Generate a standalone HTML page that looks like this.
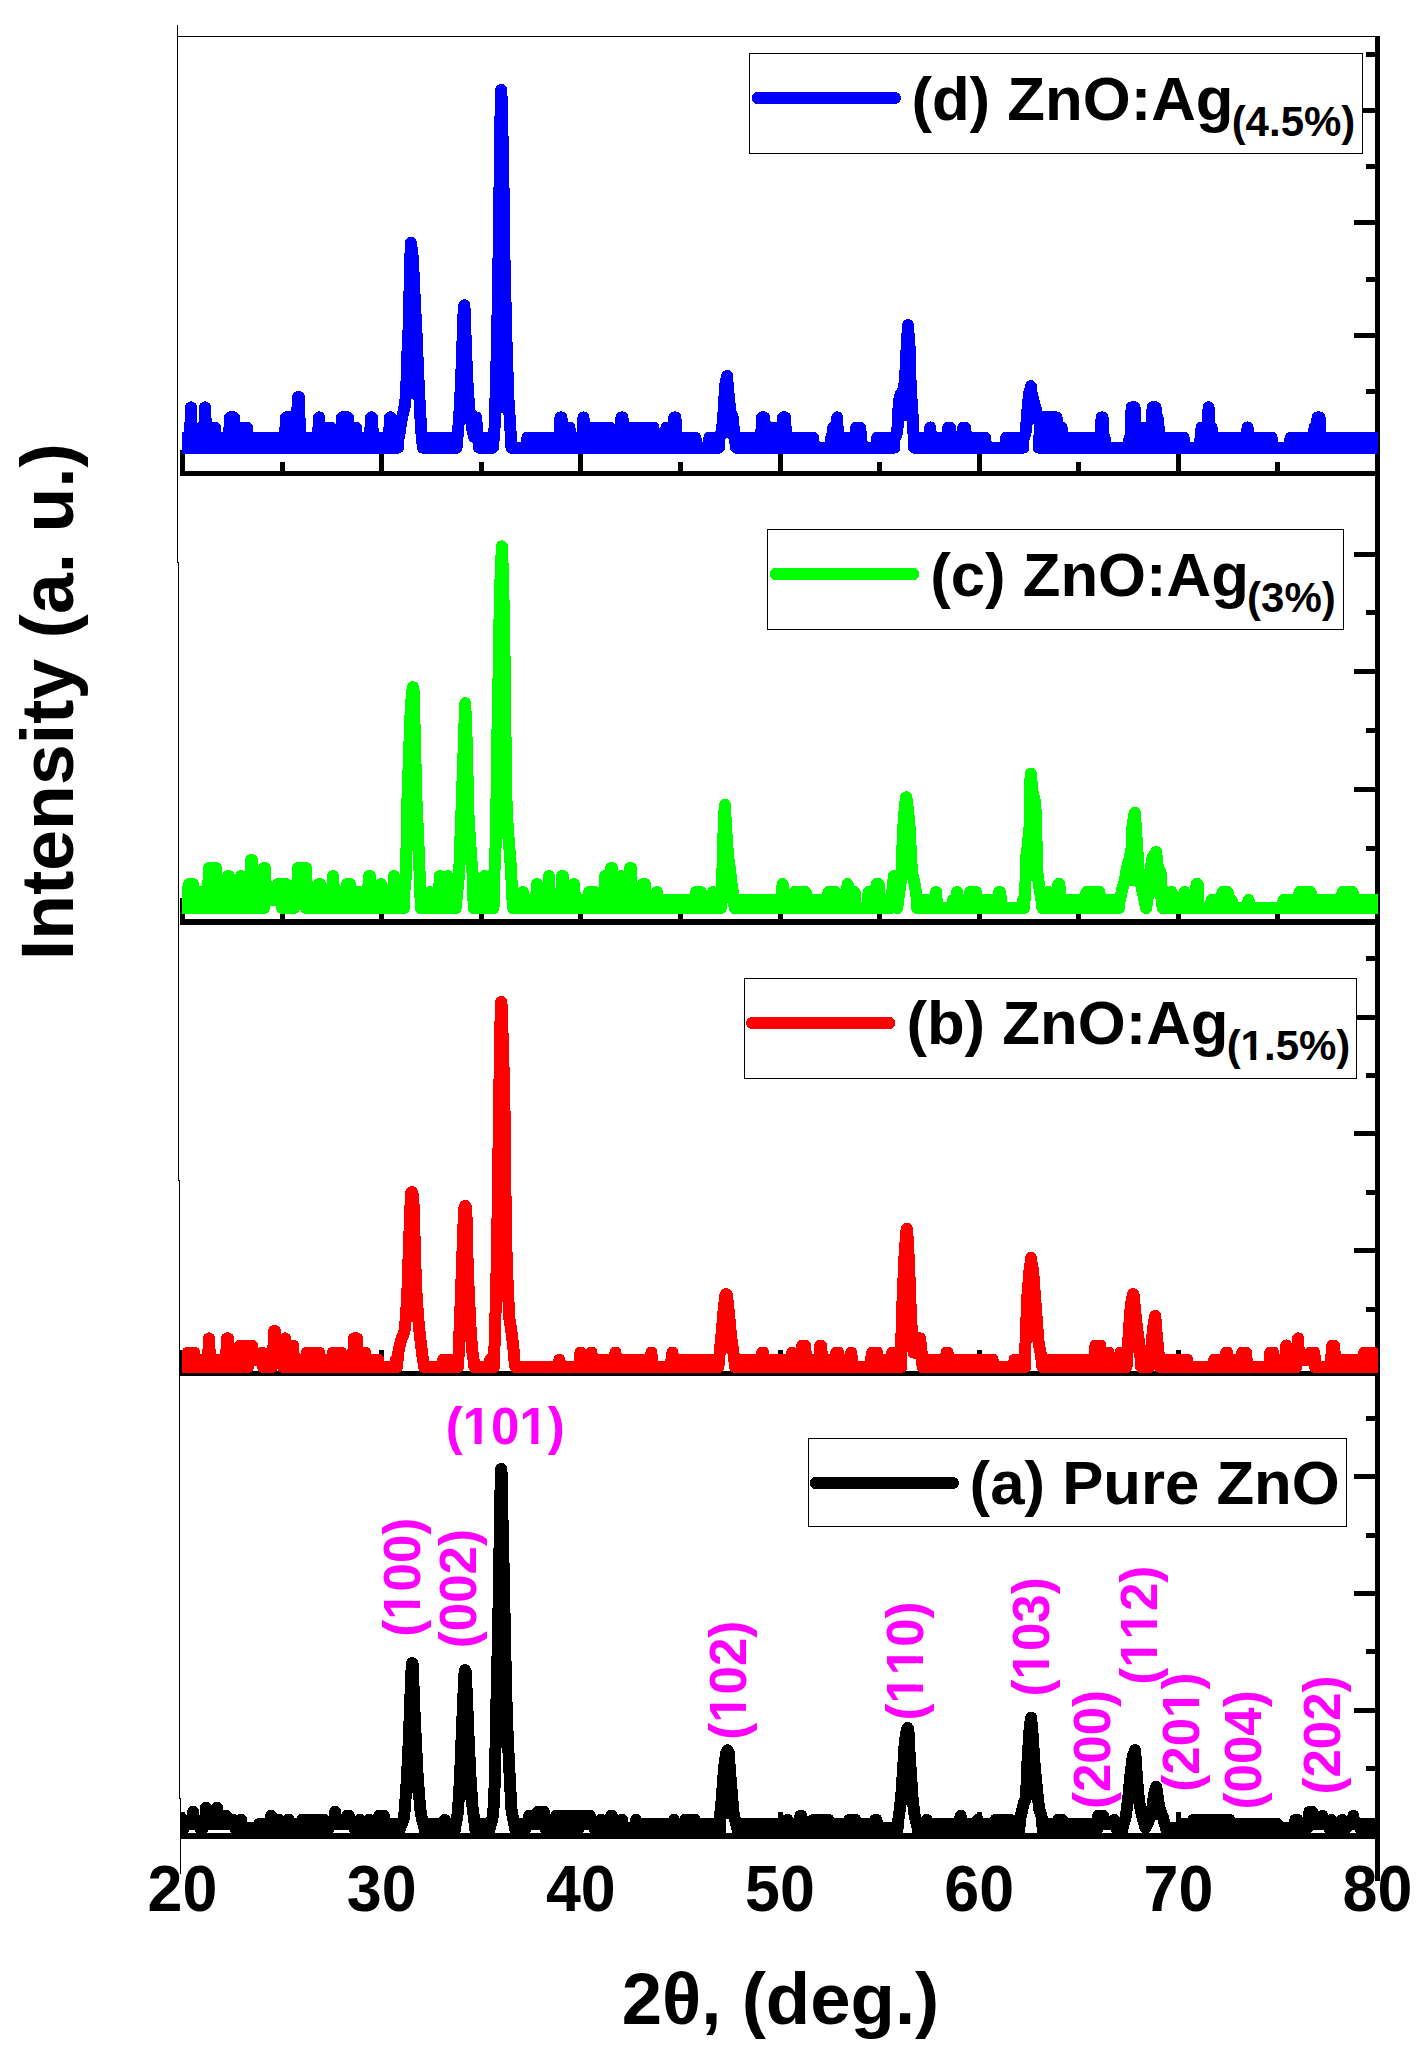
<!DOCTYPE html>
<html lang="en"><head><meta charset="utf-8"><title>XRD patterns of ZnO:Ag</title>
<style>html,body{margin:0;padding:0;background:#fff;overflow:hidden}svg{display:block}text{font-family:"Liberation Sans",sans-serif;font-weight:bold;font-kerning:none}</style>
</head><body>
<svg width="1424" height="2060" viewBox="0 0 1424 2060">
<rect width="1424" height="2060" fill="#fff"/>
<defs><clipPath id="cp"><rect x="182" y="0" width="1196" height="2060"/></clipPath></defs>
<g fill="#000" shape-rendering="crispEdges">
<rect x="177" y="36" width="1203" height="1.3"/>
<rect x="177" y="25" width="1.3" height="538"/>
<rect x="178" y="562" width="1.3" height="619"/>
<rect x="179" y="1180" width="1.3" height="619"/>
<rect x="180" y="1798" width="1.3" height="76"/>
</g>
<g fill="#000" shape-rendering="crispEdges">
<rect x="1375" y="36" width="5" height="1844.5"/>
<rect x="180" y="471" width="1198" height="5"/>
<rect x="180.0" y="450.0" width="5" height="22"/>
<rect x="279.6" y="462.0" width="5" height="10"/>
<rect x="379.2" y="450.0" width="5" height="22"/>
<rect x="478.8" y="462.0" width="5" height="10"/>
<rect x="578.3" y="450.0" width="5" height="22"/>
<rect x="677.9" y="462.0" width="5" height="10"/>
<rect x="777.5" y="450.0" width="5" height="22"/>
<rect x="877.1" y="462.0" width="5" height="10"/>
<rect x="976.7" y="450.0" width="5" height="22"/>
<rect x="1076.3" y="462.0" width="5" height="10"/>
<rect x="1175.9" y="450.0" width="5" height="22"/>
<rect x="1275.4" y="462.0" width="5" height="10"/>
<rect x="1375.0" y="450.0" width="5" height="22"/>
<rect x="1354" y="108.0" width="22" height="5"/>
<rect x="1354" y="220.2" width="22" height="5"/>
<rect x="1354" y="332.5" width="22" height="5"/>
<rect x="1366" y="52.0" width="10" height="5"/>
<rect x="1366" y="164.3" width="10" height="5"/>
<rect x="1366" y="276.5" width="10" height="5"/>
<rect x="1366" y="388.9" width="10" height="5"/>
<rect x="180" y="919" width="1198" height="6"/>
<rect x="180.0" y="898.0" width="5" height="22"/>
<rect x="279.6" y="910.0" width="5" height="10"/>
<rect x="379.2" y="898.0" width="5" height="22"/>
<rect x="478.8" y="910.0" width="5" height="10"/>
<rect x="578.3" y="898.0" width="5" height="22"/>
<rect x="677.9" y="910.0" width="5" height="10"/>
<rect x="777.5" y="898.0" width="5" height="22"/>
<rect x="877.1" y="910.0" width="5" height="10"/>
<rect x="976.7" y="898.0" width="5" height="22"/>
<rect x="1076.3" y="910.0" width="5" height="10"/>
<rect x="1175.9" y="898.0" width="5" height="22"/>
<rect x="1275.4" y="910.0" width="5" height="10"/>
<rect x="1375.0" y="898.0" width="5" height="22"/>
<rect x="1354" y="551.5" width="22" height="5"/>
<rect x="1354" y="669.0" width="22" height="5"/>
<rect x="1354" y="787.0" width="22" height="5"/>
<rect x="1366" y="610.3" width="10" height="5"/>
<rect x="1366" y="727.8" width="10" height="5"/>
<rect x="1366" y="846.0" width="10" height="5"/>
<rect x="180" y="1371" width="1198" height="5"/>
<rect x="180.0" y="1350.0" width="5" height="22"/>
<rect x="279.6" y="1362.0" width="5" height="10"/>
<rect x="379.2" y="1350.0" width="5" height="22"/>
<rect x="478.8" y="1362.0" width="5" height="10"/>
<rect x="578.3" y="1350.0" width="5" height="22"/>
<rect x="677.9" y="1362.0" width="5" height="10"/>
<rect x="777.5" y="1350.0" width="5" height="22"/>
<rect x="877.1" y="1362.0" width="5" height="10"/>
<rect x="976.7" y="1350.0" width="5" height="22"/>
<rect x="1076.3" y="1362.0" width="5" height="10"/>
<rect x="1175.9" y="1350.0" width="5" height="22"/>
<rect x="1275.4" y="1362.0" width="5" height="10"/>
<rect x="1375.0" y="1350.0" width="5" height="22"/>
<rect x="1354" y="1014.5" width="22" height="5"/>
<rect x="1354" y="1131.2" width="22" height="5"/>
<rect x="1354" y="1247.7" width="22" height="5"/>
<rect x="1366" y="955.8" width="10" height="5"/>
<rect x="1366" y="1072.7" width="10" height="5"/>
<rect x="1366" y="1189.5" width="10" height="5"/>
<rect x="1366" y="1306.5" width="10" height="5"/>
<rect x="180" y="1833" width="1198" height="6"/>
<rect x="180.0" y="1812.0" width="5" height="22"/>
<rect x="279.6" y="1824.0" width="5" height="10"/>
<rect x="379.2" y="1812.0" width="5" height="22"/>
<rect x="478.8" y="1824.0" width="5" height="10"/>
<rect x="578.3" y="1812.0" width="5" height="22"/>
<rect x="677.9" y="1824.0" width="5" height="10"/>
<rect x="777.5" y="1812.0" width="5" height="22"/>
<rect x="877.1" y="1824.0" width="5" height="10"/>
<rect x="976.7" y="1812.0" width="5" height="22"/>
<rect x="1076.3" y="1824.0" width="5" height="10"/>
<rect x="1175.9" y="1812.0" width="5" height="22"/>
<rect x="1275.4" y="1824.0" width="5" height="10"/>
<rect x="1375.0" y="1812.0" width="5" height="22"/>
<rect x="1354" y="1474.3" width="22" height="5"/>
<rect x="1354" y="1590.8" width="22" height="5"/>
<rect x="1354" y="1707.8" width="22" height="5"/>
<rect x="1366" y="1416.0" width="10" height="5"/>
<rect x="1366" y="1532.5" width="10" height="5"/>
<rect x="1366" y="1649.0" width="10" height="5"/>
<rect x="1366" y="1765.5" width="10" height="5"/>
</g>
<g clip-path="url(#cp)" stroke="#0000ff" stroke-width="12" stroke-linejoin="round" stroke-linecap="round" shape-rendering="crispEdges">
<path fill="#0000ff" d="M182,437.6 190,437.6 191,407.3 192,437.6 204,437.6 205,407.3 206,427.5 215,427.5 216,437.6 229,437.6 230,417.4 234,417.4 235,427.5 247,427.5 248,437.6 285,437.6 286,417.4 297,417.4 298,397.2 299,397.2 300,437.6 318,437.6 319,417.4 320,427.5 331,427.5 332,437.6 341,437.6 342,417.4 348,417.4 349,427.5 356,427.5 357,437.6 370,437.6 371,417.4 372,417.4 373,437.6 389,437.6 390,417.4 391,417.4 392,437.6 398,437.6 398,447.7 182,447.7ZM424,437.6 455.5,437.6 455.5,447.7 424,447.7ZM479,437.6 492,437.6 492,447.7 479,447.7ZM512.4,447.7 526.4,447.7 527.4,437.6 559.4,437.6 560.4,417.4 561.4,417.4 562.4,427.5 569.4,427.5 570.4,437.6 582.4,437.6 583.4,417.4 584.4,427.5 609.4,427.5 610.4,437.6 620.4,437.6 621.4,417.4 622.4,417.4 623.4,427.5 653.4,427.5 654.4,437.6 665.4,437.6 666.4,427.5 673.4,427.5 674.4,417.4 675.4,417.4 676.4,437.6 695.4,437.6 696.4,447.7 708.4,447.7 709.4,437.6 718.9,437.6 718.9,447.7 512.4,447.7ZM737.1,437.6 761.1,437.6 762.1,417.4 764.1,417.4 765.1,427.5 782.1,427.5 783.1,417.4 785.1,417.4 786.1,437.6 813.1,437.6 814.1,447.7 830.1,447.7 831.1,437.6 832.1,437.6 833.1,427.5 836.1,427.5 837.1,417.4 838.1,437.6 855.1,437.6 856.1,427.5 860.1,427.5 861.1,437.6 862.1,447.7 876.1,447.7 877.1,437.6 894.4,437.6 894.4,447.7 737.1,447.7ZM915.1,437.6 929.1,437.6 930.1,427.5 931.1,437.6 947.1,437.6 948.1,427.5 950.1,427.5 951.1,437.6 962.1,437.6 963.1,427.5 965.1,427.5 966.1,437.6 985.1,437.6 986.1,447.7 1005.1,447.7 1006.1,437.6 1023.4,437.6 1023.4,447.7 915.1,447.7ZM1038.6,437.6 1039.6,437.6 1040.6,417.4 1056.6,417.4 1057.6,427.5 1061.6,427.5 1062.6,437.6 1100.6,437.6 1101.6,417.4 1102.6,417.4 1103.6,437.6 1104.6,437.6 1105.6,447.7 1128.6,447.7 1129.6,437.6 1130.6,437.6 1131.6,407.3 1134.6,407.3 1135.6,427.5 1151.6,427.5 1152.6,407.3 1155.6,407.3 1156.6,417.4 1157.6,417.4 1158.6,427.5 1159.6,437.6 1183.6,437.6 1184.6,447.7 1199.6,447.7 1200.6,437.6 1201.6,427.5 1207.6,427.5 1208.6,407.3 1209.6,427.5 1211.6,427.5 1212.6,437.6 1246.6,437.6 1247.6,427.5 1248.6,437.6 1271.6,437.6 1272.6,447.7 1289.6,447.7 1290.6,437.6 1313.6,437.6 1314.6,427.5 1316.6,427.5 1317.6,417.4 1319.6,417.4 1320.6,437.6 1378,437.6 1378,447.7 1038.6,447.7Z"/>
<path fill="none" d="M399,437 401.5,420 405,405 406.3,390 407,360 408.3,339 409.3,300 410.3,259 410.9,243 411.9,250 412.9,259 414.8,300 416.8,339 418,370 419.4,398 420.6,420 421.8,438 423,447.7M456.5,447.7 458,432 459.7,408.5 461.2,378.6 462.6,338.8 463.6,312 464.2,305.3 464.9,312 465.6,338.8 467.2,378.6 469.2,408.5 470.6,418.5 472.5,430 474,437 476,417.4 478,437M493,447.7 494.5,428.4 495.5,398.5 497.1,338.8 498.5,259.1 499.9,159.6 500.8,96 501.1,89.9 501.5,96 503.1,159.6 504.5,259.1 506.4,338.8 508.4,398.5 510.4,428.4 511.4,447.7M719.9,437 721.9,431.5 723.7,409.6 725.3,384.3 726.9,377 727,376 727.1,377 728.6,394.4 730.3,411.2 732.8,418 734.1,433 736.1,447.7M895.4,437 897.3,431.5 898.9,401 900.6,394.4 904,389.3 905.7,367.4 906.5,350.6 907.9,327 908,325 908.1,327 909.8,350.6 910.6,384.3 911.8,404.5 912.8,418 913.4,431.5 914.1,447.7M1024.4,437 1025.9,431 1027.3,411 1029,394 1031,386.8 1030.8,386.2 1030.6,386.8 1031.7,394 1033.9,402.5 1036.5,411 1037.6,420"/>
<path fill="#0000ff" stroke="none" d="M405.6,398.5 406.3,390 407,360 408.3,339 409.3,300 410.3,259 410.9,243 411.9,250 412.9,259 414.8,300 416.8,339 418,370 419.4,398 419.4,398.5ZM459,418.4 459.7,408.5 461.2,378.6 462.6,338.8 463.6,312 464.2,305.3 464.9,312 465.6,338.8 467.2,378.6 469.2,408.5 470.6,418.4ZM495,412.5 495.5,398.5 497.1,338.8 498.5,259.1 499.9,159.6 500.8,96 501.1,89.9 501.5,96 503.1,159.6 504.5,259.1 506.4,338.8 508.4,398.5 509.3,412.5ZM719.9,437 721.9,431.5 723.7,409.6 725.3,384.3 726.9,377 727,376 727.1,377 728.6,394.4 730.3,411.2 732.8,418 734.1,433 735,439.9ZM897.9,420.5 898.9,401 900.6,394.4 904,389.3 905.7,367.4 906.5,350.6 907.9,327 908,325 908.1,327 909.8,350.6 910.6,384.3 911.8,404.5 912.8,418 912.9,420.5ZM1025.7,432 1025.9,431 1027.3,411 1029,394 1031,386.8 1030.8,386.2 1030.6,386.8 1031.7,394 1033.9,402.5 1036.5,411 1037.6,420Z"/>
</g>
<g clip-path="url(#cp)" stroke="#00ff00" stroke-width="12" stroke-linejoin="round" stroke-linecap="round" shape-rendering="crispEdges">
<path fill="#00ff00" d="M182,892.1 188,892.1 189,884.1 193,884.1 194,892.1 208,892.1 209,868.1 216,868.1 217,892.1 227,892.1 228,876.1 229,876.1 230,892.1 240,892.1 241,876.1 242,892.1 250,892.1 251,860.1 252,860.1 253,892.1 263,892.1 264,868.1 265,868.1 266,892.1 277,892.1 278,884.1 286,884.1 287,892.1 297,892.1 298,868.1 306,868.1 307,892.1 318,892.1 319,884.1 320,884.1 321,892.1 332,892.1 333,876.1 334,892.1 346,892.1 347,884.1 350,884.1 351,892.1 368,892.1 369,876.1 370,876.1 371,892.1 380,892.1 381,884.1 382,892.1 393,892.1 394,876.1 395,892.1 397,892.1 398,900.1 402.9,900.1 402.9,908.1 306,908.1 305,900.1 295,900.1 294,908.1 282,908.1 281,900.1 265,900.1 264,908.1 182,908.1ZM421.8,900.1 428.8,900.1 429.8,892.1 430.8,900.1 438.8,900.1 439.8,876.1 440.8,900.1 446.8,900.1 447.8,876.1 448.8,900.1 454.7,900.1 454.7,908.1 421.8,908.1ZM474.6,900.1 483.6,900.1 484.6,876.1 485.6,900.1 492.5,900.1 492.5,908.1 474.6,908.1ZM514,900.1 522,900.1 523,892.1 524,900.1 536,900.1 537,884.1 538,900.1 548,900.1 549,876.1 550,900.1 561,900.1 562,876.1 563,876.1 564,900.1 573,900.1 574,884.1 575,900.1 588,900.1 589,892.1 595,892.1 596,900.1 604,900.1 605,876.1 606,900.1 610,900.1 611,868.1 612,868.1 613,900.1 620,900.1 621,876.1 622,900.1 629,900.1 630,868.1 631,868.1 632,900.1 642,900.1 643,884.1 645,884.1 646,900.1 656,900.1 657,892.1 658,900.1 695,900.1 696,892.1 701,892.1 702,900.1 712,900.1 713,892.1 714,900.1 719.9,900.1 719.9,908.1 514,908.1ZM735.6,900.1 781.6,900.1 782.6,884.1 783.6,900.1 793.6,900.1 794.6,892.1 805.6,892.1 806.6,900.1 827.6,900.1 828.6,892.1 835.6,892.1 836.6,900.1 846.6,900.1 847.6,884.1 848.6,900.1 849.6,900.1 850.6,908.1 853.6,908.1 854.6,892.1 855.6,908.1 867.6,908.1 868.6,892.1 869.6,908.1 871.6,908.1 872.6,900.1 875.6,900.1 876.6,884.1 878.6,884.1 879.6,900.1 890.4,900.1 890.4,908.1 735.6,908.1ZM918.1,900.1 935.1,900.1 936.1,892.1 937.1,908.1 952.1,908.1 953.1,900.1 956.1,900.1 957.1,892.1 958.1,900.1 969.1,900.1 970.1,892.1 976.1,892.1 977.1,900.1 998.1,900.1 999.1,892.1 1000.1,892.1 1001.1,900.1 1002.1,908.1 1022.1,908.1 1022.9,900.1 1022.9,908.1 918.1,908.1ZM1043.4,900.1 1047.4,900.1 1048.4,892.1 1049.4,900.1 1057.4,900.1 1058.4,884.1 1059.4,884.1 1060.4,900.1 1085.4,900.1 1086.4,892.1 1099.4,892.1 1100.4,900.1 1118.9,900.1 1118.9,908.1 1043.4,908.1ZM1163.6,900.1 1170.6,900.1 1171.6,892.1 1172.6,900.1 1183.6,900.1 1184.6,892.1 1185.6,900.1 1195.6,900.1 1196.6,884.1 1197.6,884.1 1198.6,908.1 1210.6,908.1 1211.6,900.1 1221.6,900.1 1222.6,892.1 1227.6,892.1 1228.6,900.1 1231.6,900.1 1232.6,908.1 1247.6,908.1 1248.6,900.1 1249.6,908.1 1282.6,908.1 1283.6,900.1 1298.6,900.1 1299.6,892.1 1310.6,892.1 1311.6,900.1 1341.6,900.1 1342.6,892.1 1352.6,892.1 1353.6,900.1 1378,900.1 1378,908.1 1163.6,908.1Z"/>
<path fill="none" d="M403.9,908.1 404.5,890 405.9,876.4 406.5,848.6 407.5,798.8 408.9,759 410.3,719.1 411.9,693.2 412.9,687.3 413.9,693.2 414.4,719.1 415.4,759 416.4,798.8 418.2,838.6 419.4,868.5 420.2,886.4 420.8,908.1M455.7,908.1 457.7,888.4 459.3,870.5 460,848.6 461.2,818.7 462.6,778.9 464,739 465.2,703.2 466.6,739 467.6,778.9 468.6,818.7 470.6,848.6 472,868.5 473.2,878.4 473.6,908.1M493.5,908.1 494.5,870.5 495.5,848.6 496.5,798.8 497.5,729.1 498.5,679.3 499.5,619.6 500.5,579.7 501.9,546.3 503.1,579.7 503.9,619.6 504.9,679.3 505.4,729.1 506.4,798.8 507.8,828.6 509.4,848.6 511,868.5 511.8,886.4 513,908.1M720.9,908.1 722.2,881.1 723,847.4 724.2,813.7 725,804.9 725.3,813.7 726.3,830.6 728,855.8 729.7,867.6 731.7,884.5 733.4,894.6 734.6,908.1M891.4,900 893.9,876 895.7,896 897.2,908.1 898.9,895 901.1,879 901.7,866.4 902.3,849.6 903.5,824.3 904.8,807.4 906,797.3 906.4,797.3 907.7,807.4 909.4,824.3 910.4,841 910.9,858 912.6,874.8 915.1,886.6 916.6,897 917.1,908.1M1023.9,908.1 1025.3,891.7 1026,858 1027.3,849.6 1029.8,824.3 1030.3,790.6 1030.6,773.7 1030.9,773.7 1032.3,790.6 1035.3,802.4 1036.5,841.1 1037.3,871.5 1039.1,886 1041.5,900 1042.4,908.1M1119.9,900 1122,890 1124.5,881.6 1127,868.1 1129.6,858 1131.6,847.9 1132.6,824.3 1134.5,814 1134.8,812.7 1135.1,814 1135.8,827.6 1137,844.5 1137.9,858 1138.7,872 1141.1,885 1144.1,898 1146.1,908.1 1148.9,890 1150.1,872.3 1152.3,858 1155.3,853.3 1156.2,852.1 1156.7,857 1157.2,864.7 1160.6,873.1 1161.5,885.8 1162.6,908.1"/>
<path fill="#00ff00" stroke="none" d="M406.5,850.5 406.5,848.6 407.5,798.8 408.9,759 410.3,719.1 411.9,693.2 412.9,687.3 413.9,693.2 414.4,719.1 415.4,759 416.4,798.8 418.2,838.6 418.7,850.5ZM459.5,864.5 460,848.6 461.2,818.7 462.6,778.9 464,739 465.2,703.2 466.6,739 467.6,778.9 468.6,818.7 470.6,848.6 471.7,864.5ZM495.7,838.6 496.5,798.8 497.5,729.1 498.5,679.3 499.5,619.6 500.5,579.7 501.9,546.3 503.1,579.7 503.9,619.6 504.9,679.3 505.4,729.1 506.4,798.8 507.8,828.6 508.6,838.6ZM721.1,903 722.2,881.1 723,847.4 724.2,813.7 725,804.9 725.3,813.7 726.3,830.6 728,855.8 729.7,867.6 731.7,884.5 733.4,894.6 734.1,903ZM901.1,879 901.7,866.4 902.3,849.6 903.5,824.3 904.8,807.4 906,797.3 906.4,797.3 907.7,807.4 909.4,824.3 910.4,841 910.9,858 912.6,874.8 913.5,879ZM1025.5,879.9 1026,858 1027.3,849.6 1029.8,824.3 1030.3,790.6 1030.6,773.7 1030.9,773.7 1032.3,790.6 1035.3,802.4 1036.5,841.1 1037.3,871.5 1038.3,879.9ZM1123.2,885.8 1124.5,881.6 1127,868.1 1129.6,858 1131.6,847.9 1132.6,824.3 1134.5,814 1134.8,812.7 1135.1,814 1135.8,827.6 1137,844.5 1137.9,858 1138.7,872 1141.1,885 1141.3,885.8ZM1148.9,890 1150.1,872.3 1152.3,858 1155.3,853.3 1156.2,852.1 1156.7,857 1157.2,864.7 1160.6,873.1 1161.5,885.8 1162.6,908.1Z"/>
</g>
<g clip-path="url(#cp)" stroke="#ff0000" stroke-width="12" stroke-linejoin="round" stroke-linecap="round" shape-rendering="crispEdges">
<path fill="#ff0000" d="M182,1359.8 187,1359.8 188,1352.6 194,1352.6 195,1359.8 208,1359.8 209,1338.3 210,1359.8 226,1359.8 227,1338.3 228,1338.3 229,1359.8 239,1359.8 240,1345.5 252,1345.5 253,1359.8 261,1359.8 262,1352.6 263,1359.8 273,1359.8 274,1331.2 275,1331.2 276,1359.8 284,1359.8 285,1338.3 286,1359.8 292,1359.8 293,1345.5 294,1359.8 306,1359.8 307,1352.6 319,1352.6 320,1359.8 332,1359.8 333,1352.6 341,1352.6 342,1359.8 353,1359.8 354,1338.3 357,1338.3 358,1359.8 364,1359.8 365,1352.6 366,1359.8 378,1359.8 379,1366.9 395,1366.9 395.9,1359.8 395.9,1366.9 283,1366.9 282,1359.8 273,1359.8 272,1366.9 263,1366.9 262,1359.8 249,1359.8 248,1366.9 182,1366.9ZM425.2,1366.9 442.2,1366.9 443.2,1359.8 457.1,1359.8 457.1,1366.9 425.2,1366.9ZM475.2,1366.9 489.2,1366.9 490.2,1359.8 492.9,1359.8 492.9,1366.9 475.2,1366.9ZM516.4,1366.9 558.4,1366.9 559.4,1359.8 560.4,1366.9 579.4,1366.9 580.4,1352.6 581.4,1359.8 590.4,1359.8 591.4,1352.6 592.4,1359.8 614.4,1359.8 615.4,1352.6 616.4,1359.8 650.4,1359.8 651.4,1352.6 652.4,1366.9 670.4,1366.9 671.4,1359.8 672.4,1352.6 673.4,1359.8 717.4,1359.8 717.4,1366.9 516.4,1366.9ZM736.1,1359.8 761.1,1359.8 762.1,1352.6 763.1,1352.6 764.1,1359.8 791.1,1359.8 792.1,1352.6 793.1,1359.8 801.1,1359.8 802.1,1345.5 805.1,1345.5 806.1,1359.8 819.1,1359.8 820.1,1345.5 821.1,1345.5 822.1,1359.8 835.1,1359.8 836.1,1352.6 838.1,1352.6 839.1,1359.8 850.1,1359.8 851.1,1352.6 852.1,1359.8 853.1,1366.9 870.1,1366.9 871.1,1359.8 872.1,1352.6 877.1,1352.6 878.1,1359.8 891.1,1359.8 892.1,1352.6 893.1,1359.8 900.3,1359.8 900.3,1366.9 736.1,1366.9ZM923.6,1359.8 945.6,1359.8 946.6,1352.6 947.6,1352.6 948.6,1359.8 992.6,1359.8 993.6,1366.9 1013.6,1366.9 1014.6,1359.8 1024.3,1359.8 1024.3,1366.9 923.6,1366.9ZM1043.4,1359.8 1094.4,1359.8 1095.4,1345.5 1100.4,1345.5 1101.4,1359.8 1104.4,1359.8 1105.4,1366.9 1107.4,1366.9 1108.4,1352.6 1109.4,1366.9 1119.4,1366.9 1120.4,1352.6 1121.4,1366.9 1122.4,1366.9 1123.4,1359.8 1125.5,1359.8 1125.5,1366.9 1043.4,1366.9ZM1161.1,1359.8 1187.1,1359.8 1188.1,1366.9 1213.1,1366.9 1214.1,1359.8 1225.1,1359.8 1226.1,1352.6 1227.1,1352.6 1228.1,1359.8 1241.1,1359.8 1242.1,1352.6 1246.1,1352.6 1247.1,1366.9 1269.1,1366.9 1270.1,1352.6 1273.1,1352.6 1274.1,1359.8 1285.1,1359.8 1286.1,1345.5 1287.1,1359.8 1297.1,1359.8 1298.1,1338.3 1299.1,1359.8 1309.1,1359.8 1310.1,1352.6 1314.1,1352.6 1315.1,1359.8 1316.1,1366.9 1330.1,1366.9 1331.1,1359.8 1332.1,1345.5 1334.1,1345.5 1335.1,1359.8 1363.1,1359.8 1364.1,1352.6 1373.1,1352.6 1374.1,1359.8 1378,1359.8 1378,1366.9 1315.1,1366.9 1314.1,1359.8 1297.1,1359.8 1296.1,1366.9 1161.1,1366.9Z"/>
<path fill="none" d="M396.9,1366.9 398.3,1352.3 400.9,1340.4 404.3,1332.4 405.9,1318.5 407.5,1288.6 408.9,1248.8 410.3,1208.9 411.3,1193 411.9,1192 412.5,1193 413.9,1208.9 414.8,1248.8 416.2,1288.6 418.2,1318.5 420.2,1338.4 422.8,1358.3 424.2,1366.9M458.1,1366.9 458.7,1352.3 459.6,1328.4 461.2,1288.6 462.6,1248.8 464,1211 464.5,1207 465.2,1206 465.9,1207 466.4,1211 467.2,1248.8 468.6,1288.6 470.6,1328.4 472,1348.3 473.6,1360.3 474.2,1366.9M493.9,1366.9 494.5,1346.3 495.1,1328.4 495.9,1298.6 497.1,1248.8 497.9,1189 499.1,1109.4 499.9,1049.6 500.9,1003.5 501.2,1001.9 501.5,1003.5 503.1,1049.6 504.5,1109.4 505.4,1189 506.4,1248.8 507.8,1288.6 509.4,1318.5 511.8,1334.4 513.4,1348.3 514.4,1360.3 515.4,1366.9M718.4,1366.9 719.8,1351.7 721.5,1334.8 723.7,1309.6 725.3,1295.4 726.1,1294 726.9,1295.4 728.6,1309.6 730.3,1328.1 732,1343.3 733.7,1355.1 735.1,1366.9M901.3,1366.9 901.3,1343.3 901.8,1318 903.2,1284.3 904.8,1250.6 906.5,1230 906.8,1228.8 907.1,1230 908.4,1250.6 909.8,1284.3 911,1318 912.3,1335 913.6,1352.6 916.1,1352.6 918.1,1338.3 920.1,1338.3 921.6,1352 922.6,1366.9M1025.3,1366.9 1025.3,1348.3 1026.5,1318 1027.6,1292.7 1029.8,1267.4 1031.3,1259 1031.1,1257.9 1030.9,1259 1033.1,1270.8 1035.3,1301.1 1037.3,1326.4 1038.7,1343.3 1040.7,1353.4 1042.4,1366.9M1126.5,1366.9 1127.9,1346.6 1129.2,1326.4 1130.9,1304.5 1132.9,1295.4 1133.2,1294 1133.7,1295.4 1135,1309.6 1137,1328.1 1138.7,1339.9 1140.4,1356.8 1141.2,1366.9 1149.4,1366.9 1151.5,1345 1153.1,1328.1 1154.8,1317.3 1155.1,1315.9 1155.4,1317.3 1156.4,1331.5 1158.1,1348.3 1159.4,1360 1160.1,1366.9"/>
<path fill="#ff0000" stroke="none" d="M406,1317.5 407.5,1288.6 408.9,1248.8 410.3,1208.9 411.3,1193 411.9,1192 412.5,1193 413.9,1208.9 414.8,1248.8 416.2,1288.6 418.1,1317.5ZM459.4,1332.4 459.6,1328.4 461.2,1288.6 462.6,1248.8 464,1211 464.5,1207 465.2,1206 465.9,1207 466.4,1211 467.2,1248.8 468.6,1288.6 470.6,1328.4 470.9,1332.4ZM495.8,1301.5 495.9,1298.6 497.1,1248.8 497.9,1189 499.1,1109.4 499.9,1049.6 500.9,1003.5 501.2,1001.9 501.5,1003.5 503.1,1049.6 504.5,1109.4 505.4,1189 506.4,1248.8 507.8,1288.6 508.5,1301.5ZM719.7,1352.5 719.8,1351.7 721.5,1334.8 723.7,1309.6 725.3,1295.4 726.1,1294 726.9,1295.4 728.6,1309.6 730.3,1328.1 732,1343.3 733.3,1352.5ZM901.3,1348.3 901.3,1343.3 901.8,1318 903.2,1284.3 904.8,1250.6 906.5,1230 906.8,1228.8 907.1,1230 908.4,1250.6 909.8,1284.3 911,1318 912.3,1335 913.3,1348.3ZM1025.6,1341.6 1026.5,1318 1027.6,1292.7 1029.8,1267.4 1031.3,1259 1031.1,1257.9 1030.9,1259 1033.1,1270.8 1035.3,1301.1 1037.3,1326.4 1038.6,1341.6ZM1127.5,1352.5 1127.9,1346.6 1129.2,1326.4 1130.9,1304.5 1132.9,1295.4 1133.2,1294 1133.7,1295.4 1135,1309.6 1137,1328.1 1138.7,1339.9 1140,1352.5ZM1149.4,1366.9 1151.5,1345 1153.1,1328.1 1154.8,1317.3 1155.1,1315.9 1155.4,1317.3 1156.4,1331.5 1158.1,1348.3 1159.4,1360 1160.1,1366.9Z"/>
</g>
<g clip-path="url(#cp)" stroke="#000000" stroke-width="12" stroke-linejoin="round" stroke-linecap="round" shape-rendering="crispEdges">
<path fill="#000000" d="M182,1824 183,1819.9 184,1824 192,1824 193,1811.8 194,1824 205,1824 206,1807.8 207,1824 216,1824 217,1807.8 218,1824 225,1824 226,1815.8 227,1824 232,1824 233,1819.9 234,1824 240,1824 241,1819.9 242,1828 258,1828 259,1824 270,1824 271,1815.8 272,1824 278,1824 279,1819.9 280,1824 287,1824 288,1819.9 289,1819.9 290,1824 301,1824 302,1819.9 324,1819.9 325,1824 334,1824 335,1811.8 336,1824 346,1824 347,1815.8 349,1815.8 350,1824 359,1824 360,1819.9 361,1824 368,1824 369,1819.9 370,1824 378,1824 379,1815.8 384,1815.8 385,1824 397.6,1824 397.6,1828 354,1828 353,1824 330,1824 329,1828 235,1828 234,1824 204,1824 203,1828 200,1828 199,1824 185,1824 184,1828 182,1828ZM426.7,1824 443.7,1824 444.7,1819.9 445.7,1824 453.3,1824 453.3,1828 426.7,1828ZM476.8,1824 487.6,1824 487.6,1828 476.8,1828ZM517,1824 528,1824 529,1815.8 530,1824 537,1824 538,1811.8 544,1811.8 545,1824 555,1824 556,1815.8 590,1815.8 591,1824 600,1824 601,1819.9 602,1824 610,1824 611,1815.8 612,1815.8 613,1824 620,1824 621,1828 622,1819.9 623,1828 635,1828 636,1819.9 637,1824 673,1824 674,1819.9 675,1824 684,1824 685,1819.9 695,1819.9 696,1824 719.1,1824 719.1,1828 594,1828 593,1824 580,1824 579,1828 545,1828 544,1824 527,1824 526,1828 517,1828ZM739.4,1824 786.4,1824 787.4,1819.9 788.4,1824 799.4,1824 800.4,1815.8 801.4,1815.8 802.4,1824 812.4,1824 813.4,1819.9 828.4,1819.9 829.4,1824 848.4,1824 849.4,1819.9 855.4,1819.9 856.4,1824 874.4,1824 875.4,1819.9 876.4,1819.9 877.4,1824 878.4,1828 896.2,1828 896.2,1828 739.4,1828ZM919.6,1824 925.6,1824 926.6,1819.9 927.6,1824 959.6,1824 960.6,1815.8 961.6,1824 976.6,1824 977.6,1819.9 978.6,1824 994.6,1824 995.6,1819.9 1010.6,1819.9 1011.6,1824 1017.9,1824 1017.9,1828 919.6,1828ZM1044.1,1824 1057.1,1824 1058.1,1819.9 1062.1,1819.9 1063.1,1824 1097.1,1824 1098.1,1815.8 1103.1,1815.8 1104.1,1824 1113.1,1824 1114.1,1819.9 1115.1,1824 1120.3,1824 1120.3,1828 1116.1,1828 1115.1,1824 1099.1,1824 1098.1,1828 1044.1,1828ZM1168.3,1828 1181.3,1828 1182.3,1824 1192.3,1824 1193.3,1819.9 1229.3,1819.9 1230.3,1824 1277.3,1824 1278.3,1828 1294.3,1828 1295.3,1819.9 1297.3,1819.9 1298.3,1824 1308.3,1824 1309.3,1811.8 1312.3,1811.8 1313.3,1824 1321.3,1824 1322.3,1815.8 1323.3,1824 1330.3,1824 1331.3,1819.9 1332.3,1824 1341.3,1824 1342.3,1819.9 1343.3,1824 1352.3,1824 1353.3,1815.8 1354.3,1824 1378,1824 1378,1828 1360.3,1828 1359.3,1824 1347.3,1824 1346.3,1828 1329.3,1828 1328.3,1824 1308.3,1824 1307.3,1828 1168.3,1828Z"/>
<path fill="none" d="M398.6,1832.5 403.9,1818.3 404.9,1808.4 406.9,1778.5 408.9,1738.7 410.3,1698.9 411.7,1665 412.3,1663 412.9,1665 413.9,1698.9 415.8,1738.7 417.8,1778.5 420.2,1808.4 421.8,1818.3 425.7,1832.5M454.3,1832.5 457.3,1816.4 458.1,1808.4 460,1778.5 461.6,1738.7 463.2,1698.9 464.6,1672 465.2,1670 465.8,1672 467,1698.9 468.6,1738.7 470.6,1778.5 472.6,1808.4 474,1818.3 475.8,1832.5M488.6,1832.5 492.5,1818.3 493.5,1808.4 494.5,1788.5 495.5,1748.6 496.5,1698.9 497.9,1639.1 499.1,1579.4 499.9,1519.6 500.9,1471 501.2,1468.9 501.5,1471 502.5,1519.6 503.9,1579.4 505,1639.1 506.4,1698.9 507.8,1738.7 509.8,1778.5 511.4,1808.4 513,1818.3 516,1832.5M720.1,1832.5 719.8,1818 721.5,1801.1 722.8,1784.3 724.5,1764 726.2,1752.4 727.5,1750.2 728.6,1752.4 729.8,1767.4 731.1,1784.3 732.5,1801.1 733.7,1814.6 738.4,1832.5M897.2,1832.5 898.1,1821.4 899.8,1809.6 901.5,1792.7 903.2,1767.4 904.8,1742.1 906.9,1729.7 907.6,1727.9 908.4,1729.7 909.4,1750.6 911.1,1775.8 912.8,1801.1 914.5,1814.6 918.6,1832.5M1018.9,1832.5 1020.4,1818 1022.3,1809.6 1023.9,1802.8 1026,1797.8 1027.6,1759 1029.8,1725.3 1031,1719.2 1031.1,1717.7 1031.2,1719.2 1032.6,1733.7 1034.8,1767.4 1037.3,1792.7 1039.3,1809.6 1041.5,1816.3 1043.1,1832.5M1121.3,1832.5 1125.8,1816.3 1127.9,1801.1 1130.4,1775.8 1132.9,1755.6 1134.6,1751.6 1134.9,1750.1 1135.2,1751.6 1136.2,1767.4 1138.2,1792.7 1139.6,1804.5 1142.6,1818 1145.5,1828 1149.9,1818 1152.3,1807.9 1154,1794.4 1155.7,1787.8 1156,1786.8 1156.4,1787.8 1157.8,1797.8 1159.8,1809.6 1163.1,1818 1167.3,1832.5"/>
<path fill="#000000" stroke="none" d="M405.9,1793.4 406.9,1778.5 408.9,1738.7 410.3,1698.9 411.7,1665 412.3,1663 412.9,1665 413.9,1698.9 415.8,1738.7 417.8,1778.5 419,1793.4ZM458.6,1800.4 460,1778.5 461.6,1738.7 463.2,1698.9 464.6,1672 465.2,1670 465.8,1672 467,1698.9 468.6,1738.7 470.6,1778.5 472.1,1800.4ZM495.5,1747.6 496.5,1698.9 497.9,1639.1 499.1,1579.4 499.9,1519.6 500.9,1471 501.2,1468.9 501.5,1471 502.5,1519.6 503.9,1579.4 505,1639.1 506.4,1698.9 507.8,1738.7 508.2,1747.6ZM719.7,1818.8 719.8,1818 721.5,1801.1 722.8,1784.3 724.5,1764 726.2,1752.4 727.5,1750.2 728.6,1752.4 729.8,1767.4 731.1,1784.3 732.5,1801.1 733.7,1814.6 735.3,1818.8ZM900.2,1805.3 901.5,1792.7 903.2,1767.4 904.8,1742.1 906.9,1729.7 907.6,1727.9 908.4,1729.7 909.4,1750.6 911.1,1775.8 912.8,1801.1 913.3,1805.3ZM1025.3,1799.4 1026,1797.8 1027.6,1759 1029.8,1725.3 1031,1719.2 1031.1,1717.7 1031.2,1719.2 1032.6,1733.7 1034.8,1767.4 1037.3,1792.7 1038.1,1799.4ZM1127.7,1802.8 1127.9,1801.1 1130.4,1775.8 1132.9,1755.6 1134.6,1751.6 1134.9,1750.1 1135.2,1751.6 1136.2,1767.4 1138.2,1792.7 1139.4,1802.8ZM1149.9,1818 1152.3,1807.9 1154,1794.4 1155.7,1787.8 1156,1786.8 1156.4,1787.8 1157.8,1797.8 1159.8,1809.6 1163.1,1818 1165.2,1823Z"/>
</g>
<rect x="749.5" y="53.5" width="613.0" height="100.0" fill="#fff" stroke="#000" stroke-width="1" shape-rendering="crispEdges"/>
<line x1="757.5" y1="98" x2="895" y2="98" stroke="#0000ff" stroke-width="12" stroke-linecap="round" shape-rendering="crispEdges"/>
<text x="911.4" y="120.2" font-size="61.7">(d) ZnO:Ag<tspan font-size="42" dx="-1.8" dy="15.7">(4.5%)</tspan></text>
<rect x="767.5" y="529.5" width="576.0" height="100.0" fill="#fff" stroke="#000" stroke-width="1" shape-rendering="crispEdges"/>
<line x1="775.7" y1="574" x2="913.2" y2="574" stroke="#00ff00" stroke-width="12" stroke-linecap="round" shape-rendering="crispEdges"/>
<text x="930.1999999999999" y="596" font-size="61.7">(c) ZnO:Ag<tspan font-size="42" dx="-1.8" dy="15.7">(3%)</tspan></text>
<rect x="744.5" y="978.5" width="612.0" height="100.0" fill="#fff" stroke="#000" stroke-width="1" shape-rendering="crispEdges"/>
<line x1="752.2" y1="1023" x2="889.3" y2="1023" stroke="#ff0000" stroke-width="12" stroke-linecap="round" shape-rendering="crispEdges"/>
<text x="906.4" y="1044.3" font-size="61.7">(b) ZnO:Ag<tspan font-size="42" dx="-1.8" dy="15.7">(1.5%)</tspan></text>
<g transform="translate(1226.69,1060.00)"><rect x="15.83" y="-5.59" width="7.96" height="6.59" fill="#fff"/><rect x="29.55" y="-5.59" width="7.42" height="6.59" fill="#fff"/></g>
<rect x="808.5" y="1438.5" width="538.0" height="88.0" fill="#fff" stroke="#000" stroke-width="1" shape-rendering="crispEdges"/>
<line x1="815.8" y1="1483" x2="953" y2="1483" stroke="#000000" stroke-width="12" stroke-linecap="round" shape-rendering="crispEdges"/>
<text x="969.6" y="1504.3" font-size="61.7">(a) Pure ZnO</text>
<text transform="translate(182.5,1910.8) scale(0.965,1)" font-size="65" text-anchor="middle">20</text>
<text transform="translate(381.7,1910.8) scale(0.965,1)" font-size="65" text-anchor="middle">30</text>
<text transform="translate(580.8,1910.8) scale(0.965,1)" font-size="65" text-anchor="middle">40</text>
<text transform="translate(780.0,1910.8) scale(0.965,1)" font-size="65" text-anchor="middle">50</text>
<text transform="translate(979.2,1910.8) scale(0.965,1)" font-size="65" text-anchor="middle">60</text>
<text transform="translate(1178.4,1910.8) scale(0.965,1)" font-size="65" text-anchor="middle">70</text>
<text transform="translate(1377.5,1910.8) scale(0.965,1)" font-size="65" text-anchor="middle">80</text>
<text x="780.5" y="2024.3" font-size="72.6" text-anchor="middle">2θ, (deg.)</text>
<text transform="translate(73.1,701.6) rotate(-90)" font-size="73.3" text-anchor="middle">Intensity (a. u.)</text>
<g transform="translate(505.2,1444.3)"><text font-size="51" fill="#ff00ff" text-anchor="middle">(101)</text><rect x="-40.13" y="-6.50" width="9.49" height="7.50" fill="#fff"/><rect x="-23.64" y="-6.50" width="8.84" height="7.50" fill="#fff"/><rect x="16.59" y="-6.50" width="9.49" height="7.50" fill="#fff"/><rect x="33.08" y="-6.50" width="8.84" height="7.50" fill="#fff"/></g>
<g transform="translate(419.6,1577.3) rotate(-90)"><text font-size="51" fill="#ff00ff" text-anchor="middle">(100)</text><rect x="-40.13" y="-6.50" width="9.49" height="7.50" fill="#fff"/><rect x="-23.64" y="-6.50" width="8.84" height="7.50" fill="#fff"/></g>
<g transform="translate(475.9,1588.6) rotate(-90)"><text font-size="51" fill="#ff00ff" text-anchor="middle">(002)</text></g>
<g transform="translate(746.4,1680.2) rotate(-90)"><text font-size="51" fill="#ff00ff" text-anchor="middle">(102)</text><rect x="-40.13" y="-6.50" width="9.49" height="7.50" fill="#fff"/><rect x="-23.64" y="-6.50" width="8.84" height="7.50" fill="#fff"/></g>
<g transform="translate(922.6,1661) rotate(-90)"><text font-size="51" fill="#ff00ff" text-anchor="middle">(110)</text><rect x="-40.13" y="-6.50" width="9.49" height="7.50" fill="#fff"/><rect x="-23.64" y="-6.50" width="8.84" height="7.50" fill="#fff"/><rect x="-11.77" y="-6.50" width="9.49" height="7.50" fill="#fff"/><rect x="4.72" y="-6.50" width="8.84" height="7.50" fill="#fff"/></g>
<g transform="translate(1049.3,1636.9) rotate(-90)"><text font-size="51" fill="#ff00ff" text-anchor="middle">(103)</text><rect x="-40.13" y="-6.50" width="9.49" height="7.50" fill="#fff"/><rect x="-23.64" y="-6.50" width="8.84" height="7.50" fill="#fff"/></g>
<g transform="translate(1110.3,1749.5) rotate(-90)"><text font-size="51" fill="#ff00ff" text-anchor="middle">(200)</text></g>
<g transform="translate(1156.8,1625.2) rotate(-90)"><text font-size="51" fill="#ff00ff" text-anchor="middle">(112)</text><rect x="-40.13" y="-6.50" width="9.49" height="7.50" fill="#fff"/><rect x="-23.64" y="-6.50" width="8.84" height="7.50" fill="#fff"/><rect x="-11.77" y="-6.50" width="9.49" height="7.50" fill="#fff"/><rect x="4.72" y="-6.50" width="8.84" height="7.50" fill="#fff"/></g>
<g transform="translate(1198.7,1732.1) rotate(-90)"><text font-size="51" fill="#ff00ff" text-anchor="middle">(201)</text><rect x="16.59" y="-6.50" width="9.49" height="7.50" fill="#fff"/><rect x="33.08" y="-6.50" width="8.84" height="7.50" fill="#fff"/></g>
<g transform="translate(1261.2,1749.9) rotate(-90)"><text font-size="51" fill="#ff00ff" text-anchor="middle">(004)</text></g>
<g transform="translate(1339.5,1735) rotate(-90)"><text font-size="51" fill="#ff00ff" text-anchor="middle">(202)</text></g>
</svg>
</body></html>
